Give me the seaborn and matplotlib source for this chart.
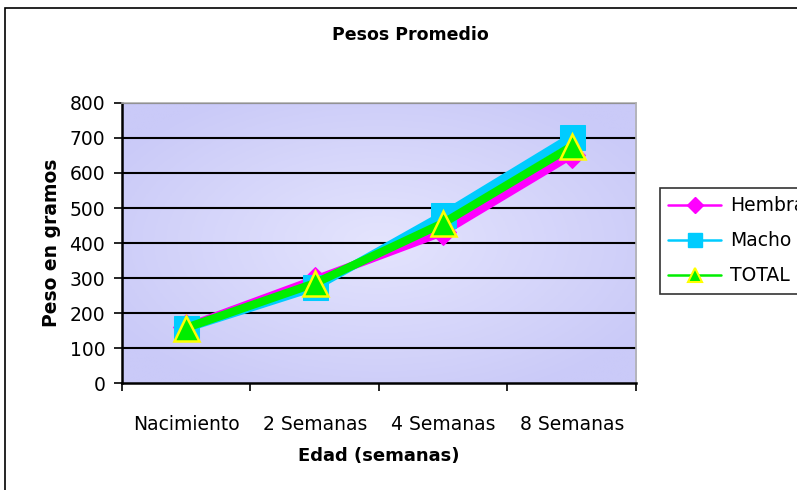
import numpy as np
import pandas as pd
import matplotlib
matplotlib.use("Agg")
import matplotlib.pyplot as plt
import matplotlib.patches as patches
from matplotlib.lines import Line2D
from matplotlib.colors import LinearSegmentedColormap
import seaborn as sns

# Data
edades = ['Nacimiento', '2 Semanas', '4 Semanas', '8 Semanas']
hembra = [160, 295, 432, 652]
macho = [157, 274, 480, 703]
total = [158, 285, 457, 676]

sns.set_theme(style="white")
plt.rcParams['font.family'] = ['DejaVu Sans']
plt.rcParams['text.color'] = 'black'
plt.rcParams['axes.labelcolor'] = 'black'

fig = plt.figure(figsize=(7.97, 4.90), dpi=100)
ax = fig.add_axes([0.153, 0.218, 0.645, 0.572])

# outer chart border (bottom edge lies outside the image)
fig.patches.append(patches.Rectangle((5 / 797, -0.05), 1.0, 1.05 - 8 / 490,
                                     transform=fig.transFigure, fill=False,
                                     edgecolor='black', linewidth=1.2))

# radial gradient background of the plot area
gx, gy = np.meshgrid(np.linspace(-1, 1, 300), np.linspace(-1, 1, 200))
rad = np.sqrt(gx ** 2 + gy ** 2) / np.sqrt(2)
cmap = LinearSegmentedColormap.from_list('bg', ['#E4E4FD', '#CACAF8'])
ax.imshow(rad, cmap=cmap, extent=[0, 1, 0, 1], transform=ax.transAxes,
          aspect='auto', zorder=0, vmin=0, vmax=0.85)

df = pd.DataFrame({'Edad': edades, 'Hembra': hembra, 'Macho': macho,
                   'TOTAL': total})
df['pos'] = range(len(edades))

sns.lineplot(data=df, x='pos', y='Hembra', ax=ax, color='#FF00FF',
             linewidth=6, marker='D', markersize=13,
             markeredgecolor='#FF00FF', zorder=3, legend=False)
sns.lineplot(data=df, x='pos', y='Macho', ax=ax, color='#00CCFF',
             linewidth=6, marker='s', markersize=18,
             markeredgecolor='#00CCFF', zorder=4, legend=False)
sns.lineplot(data=df, x='pos', y='TOTAL', ax=ax, color='#00EE00',
             linewidth=6, marker='^', markersize=18,
             markeredgecolor='#FFFF00', markeredgewidth=1.8, zorder=5,
             legend=False)

ax.set_xlim(-0.5, 3.5)
ax.set_ylim(0, 800)
ax.set_yticks(range(0, 801, 100))
ax.set_xticks(range(len(edades)))
ax.set_xticklabels(edades)
ax.set_xticks([-0.5, 0.5, 1.5, 2.5, 3.5], minor=True)
ax.tick_params(axis='x', which='major', length=0, pad=23, labelsize=13.5,
               colors='black')
ax.tick_params(axis='x', which='minor', length=6, width=1.2, color='black',
               direction='out', bottom=True)
ax.tick_params(axis='y', length=6, width=1.2, color='black', left=True,
               direction='out', labelsize=13.5, colors='black', pad=6)

for y in range(100, 801, 100):
    ax.axhline(y, color='black', lw=1.5, zorder=1)

for side in ['left', 'bottom']:
    ax.spines[side].set_color('black')
    ax.spines[side].set_linewidth(1.8)
for side in ['top', 'right']:
    ax.spines[side].set_color('#B0B0B0')
    ax.spines[side].set_linewidth(1.2)

ax.set_xlabel('Edad (semanas)', fontsize=13, fontweight='bold', labelpad=9,
              color='black')
ax.set_ylabel('Peso en gramos', fontsize=13.5, fontweight='bold',
              labelpad=6, color='black')
fig.text(0.515, 0.929, 'Pesos Promedio', ha='center', va='center',
         fontsize=12.5, fontweight='bold', color='black')

handles = [
    Line2D([], [], color='#FF00FF', lw=1.8, marker='D', markersize=8),
    Line2D([], [], color='#00CCFF', lw=1.8, marker='s', markersize=10),
    Line2D([], [], color='#00EE00', lw=1.8, marker='^', markersize=10,
           markeredgecolor='#FFFF00', markeredgewidth=1.5),
]
labels = ['Hembra', 'Macho', 'TOTAL']
leg = fig.legend(handles, labels, loc='upper left',
                 bbox_to_anchor=(660 / 797, 1 - 188 / 490), fontsize=13.5,
                 frameon=True, fancybox=False, edgecolor='black',
                 handlelength=2.8, handletextpad=0.5, labelspacing=0.85,
                 borderpad=0.45, borderaxespad=0)
leg.get_frame().set_linewidth(1.2)
for t in leg.get_texts():
    t.set_color('black')

fig.savefig('out.png', dpi=100)
